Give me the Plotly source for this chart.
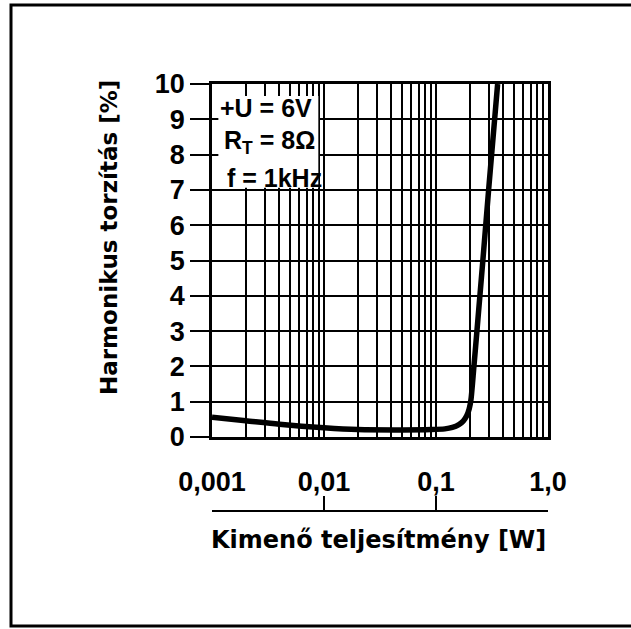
import plotly.graph_objects as go

# ---- data ----
power_w = [0.001, 0.002, 0.004, 0.01, 0.02, 0.05, 0.09, 0.12, 0.14, 0.16, 0.175,
           0.188, 0.198, 0.205, 0.218, 0.232, 0.262, 0.295, 0.355]
thd_pct = [0.56, 0.46, 0.36, 0.26, 0.21, 0.20, 0.21, 0.23, 0.27, 0.35, 0.45,
           0.6, 0.8, 1.05, 2.0, 3.0, 5.0, 7.0, 10.0]

decades = [0.001, 0.01, 0.1, 1.0]
decade_labels = ["0,001", "0,01", "0,1", "1,0"]
x_minor = [m * d for d in [0.001, 0.01, 0.1] for m in range(2, 10)]
y_ticks = list(range(0, 11))

x_title = "Kimenő teljesítmény [W]"
y_title = "Harmonikus torzítás [%]"
legend_lines = ["+U = 6V", "R<sub>T</sub> = 8Ω", "f = 1kHz"]

TICKFONT = dict(family="Liberation Sans", size=27, color="black", weight="bold")
TITLEFONT = dict(family="DejaVu Sans", size=24, color="black", weight="bold")
YTITLEFONT = dict(family="DejaVu Sans", size=23, color="black", weight="bold")

fig = go.Figure()
fig.add_trace(go.Scatter(x=power_w, y=thd_pct, mode="lines",
                         line=dict(color="black", width=5.5, shape="spline", smoothing=0.8),
                         showlegend=False, hoverinfo="skip"))
# invisible helper traces so the extra axes (bracket, top stubs) are created
fig.add_trace(go.Scatter(x=[], y=[], xaxis="x2", yaxis="y", showlegend=False))
fig.add_trace(go.Scatter(x=[], y=[], xaxis="x3", yaxis="y", showlegend=False))

W, H = 631, 629
ml, mr, mt, mb = 212, 83, 84, 100
ph = H - mt - mb
plot_bottom_px = 437
ydom0 = (H - mb - plot_bottom_px) / ph
bracket_pos = (H - mb - 511) / ph
pw = W - ml - mr

def px_x(p):
    return (p - ml) / pw

def px_y(p):
    return (H - mb - p) / ph

fig.update_layout(
    width=W, height=H,
    margin=dict(l=ml, r=mr, t=mt, b=mb),
    paper_bgcolor="white", plot_bgcolor="white",
    xaxis=dict(type="log", range=[-3, 0], tickvals=decades, ticktext=decade_labels,
               showgrid=True, gridcolor="black", gridwidth=2,
               minor=dict(tickvals=x_minor, showgrid=True, gridcolor="black", gridwidth=2),
               showline=True, linecolor="black", linewidth=2.5, mirror=True,
               ticks="", tickfont=TICKFONT, ticklabelstandoff=19, zeroline=False),
    xaxis2=dict(type="log", range=[-3, 0], overlaying="x", anchor="free",
                position=bracket_pos, side="bottom", tickvals=decades,
                showticklabels=False, showgrid=False, showline=True,
                linecolor="black", linewidth=2, ticks="inside", ticklen=14,
                tickwidth=2, tickcolor="black", zeroline=False),
    xaxis3=dict(type="log", range=[-3, 0], overlaying="x", anchor="y", side="top",
                tickvals=x_minor, showticklabels=False, showgrid=False, showline=False,
                ticks="inside", ticklen=12, tickwidth=2, tickcolor="black",
                zeroline=False, layer="above traces"),
    yaxis=dict(range=[0, 10], domain=[ydom0, 1], tickvals=y_ticks,
               showgrid=True, gridcolor="black", gridwidth=2,
               showline=True, linecolor="black", linewidth=2.5, mirror=True,
               ticks="outside", ticklen=19, tickwidth=2, tickcolor="black",
               tickfont=TICKFONT, zeroline=False),
)

# white box for the condition text (above grid, below curve)
fig.add_shape(type="rect", xref="x", yref="y", x0=0.00114, x1=0.0089, y0=7.06, y1=9.68,
              fillcolor="white", line=dict(width=0), layer="between")

# outer frame
fig.add_shape(type="rect", xref="paper", yref="paper",
              x0=px_x(11), x1=px_x(660), y0=px_y(626), y1=px_y(5),
              line=dict(color="black", width=3), fillcolor="rgba(0,0,0,0)")

for txt, ypx, xpx in zip(legend_lines, [108, 142, 178], [266, 269, 274]):
    fig.add_annotation(text=txt, xref="paper", yref="paper", x=px_x(xpx), y=px_y(ypx),
                       showarrow=False, xanchor="center", yanchor="middle",
                       bgcolor="rgba(0,0,0,0)",
                       font=dict(family="Liberation Sans", size=25, color="black", weight="bold"))

fig.add_annotation(text=x_title, xref="paper", yref="paper", x=px_x(378), y=px_y(540),
                   showarrow=False, xanchor="center", yanchor="middle", font=TITLEFONT)
fig.add_annotation(text=y_title, xref="paper", yref="paper", x=px_x(109), y=px_y(238),
                   showarrow=False, xanchor="center", yanchor="middle", textangle=-90,
                   font=YTITLEFONT)

fig.write_html("out.html", post_script="document.body.style.margin='0px';",
               config={"displayModeBar": False})
